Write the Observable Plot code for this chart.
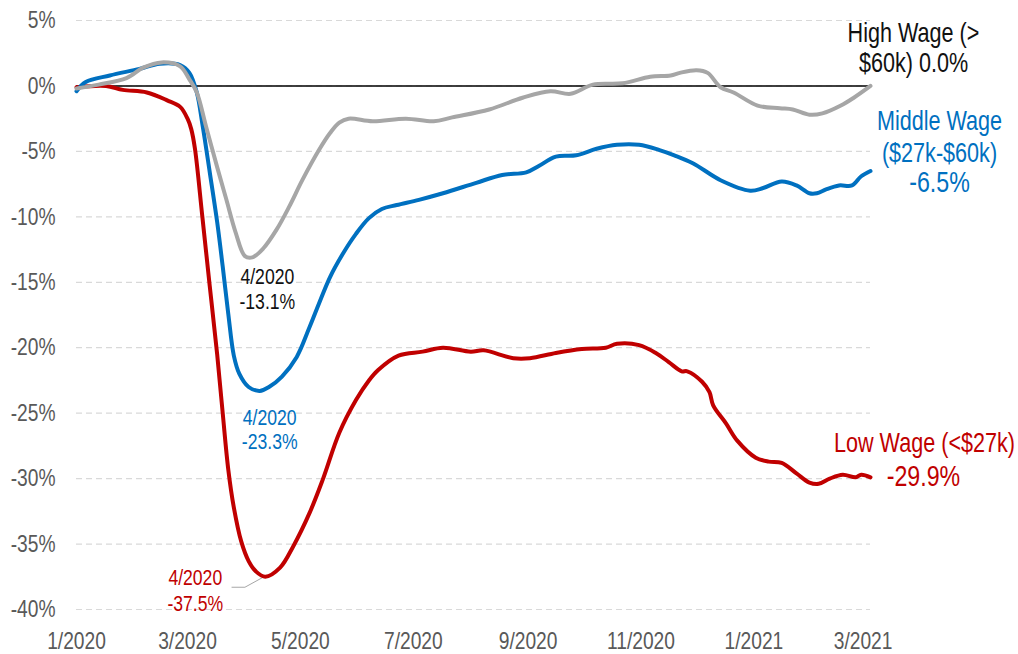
<!DOCTYPE html>
<html>
<head>
<meta charset="utf-8">
<script src="https://cdn.jsdelivr.net/npm/d3@7"></script>
<script src="https://cdn.jsdelivr.net/npm/@observablehq/plot@0.6"></script>
<style>
html, body { margin: 0; padding: 0; background: #fff; }
#chart svg { display: block; }
</style>
</head>
<body>
<div id="chart"></div>
<script>
// ---------- data ----------
const xDomain = ["2020-01-01", "2021-03-05"];
const xTickDates = ["2020-01-01","2020-03-01","2020-05-01","2020-07-01","2020-09-01","2020-11-01","2021-01-01","2021-03-01"];
const xTickLabels = ["1/2020","3/2020","5/2020","7/2020","9/2020","11/2020","1/2021","3/2021"];
const yTicks = [5, 0, -5, -10, -15, -20, -25, -30, -35, -40];
const yTickLabels = ["5%","0%","-5%","-10%","-15%","-20%","-25%","-30%","-35%","-40%"];

const highName = ["High Wage (>", "$60k)"];
const middleName = ["Middle Wage", "($27k-$60k)"];
const lowName = ["Low Wage (<$27k)"];

const highDates = ["2020-01-01","2020-01-13","2020-01-28","2020-02-06","2020-02-16","2020-02-26","2020-03-02","2020-03-06","2020-03-11","2020-03-17","2020-03-22","2020-03-27","2020-04-01","2020-04-05","2020-04-11","2020-04-18","2020-04-25","2020-05-02","2020-05-11","2020-05-17","2020-05-22","2020-05-27","2020-06-09","2020-06-27","2020-07-12","2020-07-22","2020-08-11","2020-08-29","2020-09-13","2020-09-24","2020-10-06","2020-10-22","2020-11-06","2020-11-17","2020-11-22","2020-12-01","2020-12-07","2020-12-14","2020-12-21","2021-01-03","2021-01-15","2021-01-22","2021-01-31","2021-02-07","2021-02-17","2021-02-24","2021-03-05"];
const highValues = [-0.2,0.1,0.6,1.4,1.8,1.5,0.5,-0.5,-3.1,-6.2,-8.7,-11.2,-13.0,-13.1,-12.4,-11.0,-9.2,-7.2,-4.9,-3.6,-2.8,-2.5,-2.7,-2.5,-2.7,-2.4,-1.8,-0.9,-0.4,-0.6,0.1,0.2,0.7,0.8,1.0,1.2,1.0,-0.1,-0.5,-1.5,-1.7,-1.8,-2.2,-2.1,-1.5,-0.9,0.0];

const middleDates = ["2020-01-01","2020-01-06","2020-01-19","2020-02-04","2020-02-15","2020-02-26","2020-03-02","2020-03-06","2020-03-09","2020-03-13","2020-03-17","2020-03-20","2020-03-23","2020-03-26","2020-03-29","2020-04-03","2020-04-09","2020-04-14","2020-04-21","2020-04-29","2020-05-06","2020-05-17","2020-05-24","2020-05-31","2020-06-07","2020-06-14","2020-06-22","2020-07-04","2020-07-17","2020-08-04","2020-08-18","2020-08-31","2020-09-07","2020-09-16","2020-09-27","2020-10-08","2020-10-19","2020-10-31","2020-11-11","2020-11-19","2020-11-29","2020-12-14","2020-12-30","2021-01-06","2021-01-16","2021-01-24","2021-01-31","2021-02-04","2021-02-09","2021-02-16","2021-02-23","2021-02-28","2021-03-05"];
const middleValues = [-0.4,0.3,0.8,1.3,1.7,1.6,1.0,-0.5,-2.9,-6.6,-10.4,-13.8,-17.4,-20.6,-22.0,-23.0,-23.3,-23.0,-22.2,-20.7,-18.4,-14.6,-12.8,-11.3,-10.1,-9.4,-9.1,-8.7,-8.2,-7.4,-6.8,-6.6,-6.1,-5.4,-5.3,-4.8,-4.5,-4.5,-4.9,-5.3,-5.9,-7.2,-8.0,-7.8,-7.3,-7.6,-8.2,-8.2,-7.9,-7.6,-7.6,-6.9,-6.5];

const lowDates = ["2020-01-01","2020-01-17","2020-01-26","2020-02-08","2020-02-19","2020-02-26","2020-03-01","2020-03-03","2020-03-05","2020-03-09","2020-03-13","2020-03-17","2020-03-20","2020-03-23","2020-03-26","2020-03-30","2020-04-03","2020-04-07","2020-04-12","2020-04-20","2020-04-27","2020-05-06","2020-05-13","2020-05-22","2020-05-31","2020-06-07","2020-06-12","2020-06-23","2020-07-06","2020-07-17","2020-08-01","2020-08-08","2020-08-24","2020-09-02","2020-09-16","2020-09-30","2020-10-13","2020-10-19","2020-10-31","2020-11-09","2020-11-16","2020-11-23","2020-11-26","2020-12-04","2020-12-08","2020-12-10","2020-12-17","2020-12-23","2021-01-02","2021-01-09","2021-01-16","2021-01-24","2021-01-31","2021-02-05","2021-02-11","2021-02-18","2021-02-25","2021-02-28","2021-03-05"];
const lowValues = [-0.1,0.0,-0.3,-0.5,-1.1,-1.6,-2.5,-3.3,-4.8,-10.0,-15.3,-20.5,-25.0,-29.3,-32.2,-34.8,-36.3,-37.1,-37.5,-36.8,-35.2,-32.6,-30.1,-26.5,-24.0,-22.5,-21.7,-20.6,-20.3,-20.0,-20.3,-20.2,-20.8,-20.8,-20.4,-20.1,-20.0,-19.7,-19.8,-20.4,-21.1,-21.8,-21.8,-22.6,-23.4,-24.4,-25.8,-27.1,-28.4,-28.7,-28.8,-29.6,-30.3,-30.4,-30.0,-29.7,-29.9,-29.7,-29.9];

const leaderDates = ["2020-03-25","2020-04-01","2020-04-10"];
const leaderValues = [-38.3,-38.3,-37.6];

// ---------- helpers ----------
const parse = d3.utcParse("%Y-%m-%d");
const rows = (dates, values) => dates.map((d, i) => ({date: parse(d), value: values[i]}));
const high = rows(highDates, highValues);
const middle = rows(middleDates, middleValues);
const low = rows(lowDates, lowValues);
const leader = rows(leaderDates, leaderValues);
const xTicks = xTickDates.map(parse);

const fmtMonth = d => `${d.getUTCMonth() + 1}/${d.getUTCFullYear()}`;
const fmtPct = v => `${(Math.abs(v) < 0.05 ? 0 : v).toFixed(1)}%`;
const minOf = arr => d3.least(arr, d => d.value);
const lastOf = arr => arr[arr.length - 1];

const RED = "#c00000", BLUE = "#0070c0", GRAY = "#a6a6a6", INK = "#111111", AXIS = "#595959";
const FONT = "'Liberation Sans', Arial, sans-serif";
const NARROW = 0.8; // horizontal squeeze to mimic a narrow face

const chart = Plot.plot({
  width: 1018,
  height: 654,
  marginLeft: 76,
  marginRight: 148,
  marginTop: 20,
  marginBottom: 45,
  style: {fontFamily: FONT, fontSize: "24px", background: "#fff", overflow: "visible"},
  x: {type: "utc", domain: xDomain.map(parse)},
  y: {domain: [-40, 5]},
  marks: [
    Plot.gridY(yTicks, {stroke: "#d9d9d9", strokeOpacity: 1, strokeDasharray: "6,4", strokeWidth: 1.2}),
    Plot.ruleY([0], {stroke: "#000", strokeWidth: 1.5}),
    Plot.axisY(yTicks, {tickSize: 0, tickPadding: 21, tickFormat: v => yTickLabels[yTicks.indexOf(v)], fill: AXIS, fontSize: 24, label: null}),
    Plot.axisX(xTicks, {tickSize: 0, tickPadding: 22, tickFormat: d => xTickLabels[xTicks.findIndex(t => +t === +d)], fill: AXIS, fontSize: 24, label: null}),
    Plot.line(leader, {x: "date", y: "value", stroke: GRAY, strokeWidth: 1}),
    Plot.line(low, {x: "date", y: "value", stroke: RED, strokeWidth: 4, curve: "catmull-rom"}),
    Plot.line(middle, {x: "date", y: "value", stroke: BLUE, strokeWidth: 4, curve: "catmull-rom"}),
    Plot.line(high, {x: "date", y: "value", stroke: GRAY, strokeWidth: 4, curve: "catmull-rom"}),
    // trough annotations
    Plot.text([minOf(high)], {x: "date", y: "value", text: d => `${fmtMonth(d.date)}\n${fmtPct(d.value)}`, fill: INK, fontSize: 22, lineHeight: 1.14, lineAnchor: "top", textAnchor: "middle", dx: 15, dy: 9}),
    Plot.text([minOf(middle)], {x: "date", y: "value", text: d => `${fmtMonth(d.date)}\n${fmtPct(d.value)}`, fill: BLUE, fontSize: 22, lineHeight: 1.09, lineAnchor: "top", textAnchor: "middle", dx: 10, dy: 17}),
    Plot.text([minOf(low)], {x: "date", y: "value", text: d => `${fmtMonth(d.date)}\n${fmtPct(d.value)}`, fill: RED, fontSize: 22, lineHeight: 1.18, lineAnchor: "top", textAnchor: "middle", dx: -70, dy: -10}),
    // end labels
    Plot.text([lastOf(high)], {x: "date", y: "value", text: d => `${highName[0]}\n${highName[1]} ${fmtPct(d.value)}`, fill: INK, fontSize: 27, lineHeight: 1.11, lineAnchor: "bottom", textAnchor: "middle", dx: 43, dy: -14}),
    Plot.text([lastOf(middle)], {x: "date", y: "value", text: () => middleName.join("\n"), fill: BLUE, fontSize: 27, lineHeight: 1.185, lineAnchor: "bottom", textAnchor: "middle", dx: 69, dy: -9}),
    Plot.text([lastOf(middle)], {x: "date", y: "value", text: d => fmtPct(d.value), fill: BLUE, fontSize: 29, lineAnchor: "bottom", textAnchor: "middle", dx: 69, dy: 21}),
    Plot.text([lastOf(low)], {x: "date", y: "value", text: () => lowName[0], fill: RED, fontSize: 27, lineAnchor: "bottom", textAnchor: "middle", dx: 54, dy: -25}),
    Plot.text([lastOf(low)], {x: "date", y: "value", text: d => fmtPct(d.value), fill: RED, fontSize: 29, lineAnchor: "bottom", textAnchor: "middle", dx: 53, dy: 9})
  ]
});
document.getElementById("chart").appendChild(chart);

// squeeze every text horizontally around its own anchor (narrow typeface look)
chart.querySelectorAll("text").forEach(t => {
  const tr = t.getAttribute("transform");
  if (tr) {
    t.setAttribute("transform", `${tr} scale(${NARROW},1)`);
  } else {
    const x = +(t.getAttribute("x") || 0);
    t.setAttribute("transform", `translate(${x},0) scale(${NARROW},1) translate(${-x},0)`);
  }
});
</script>
</body>
</html>
